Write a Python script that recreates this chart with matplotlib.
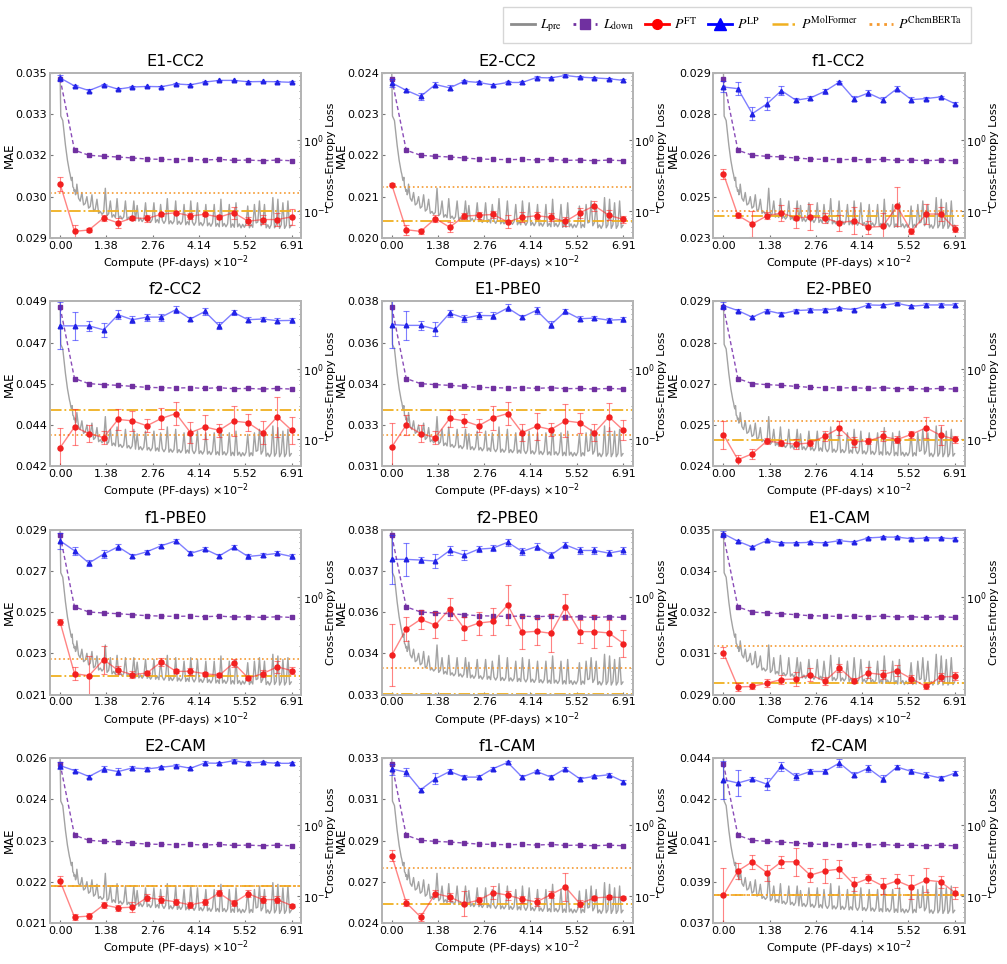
import matplotlib
matplotlib.use("Agg")
import matplotlib.pyplot as plt
import numpy as np
from matplotlib.lines import Line2D
from matplotlib.font_manager import FontProperties
from matplotlib.ticker import FixedLocator, LogLocator, NullFormatter

plt.rcParams['font.family'] = 'DejaVu Sans'

# ---- data ---------------------------------------------------------------
tasks = ['E1-CC2', 'E2-CC2', 'f1-CC2',
         'f2-CC2', 'E1-PBE0', 'E2-PBE0',
         'f1-PBE0', 'f2-PBE0', 'E1-CAM',
         'E2-CAM', 'f1-CAM', 'f2-CAM']

compute = [0.00, 0.43, 0.86, 1.30, 1.73, 2.16, 2.59, 3.02, 3.46,
           3.89, 4.32, 4.75, 5.18, 5.61, 6.05, 6.48, 6.91]
x_ticks = [0.00, 1.38, 2.76, 4.14, 5.52, 6.91]

mae_limits = [(0.029, 0.035), (0.020, 0.024), (0.023, 0.029),
              (0.042, 0.049), (0.031, 0.038), (0.024, 0.029),
              (0.021, 0.029), (0.033, 0.038), (0.029, 0.035),
              (0.021, 0.026), (0.024, 0.033), (0.037, 0.044)]

mae_tick_labels = [
    ['0.029', '0.030', '0.032', '0.033', '0.035'],
    ['0.020', '0.021', '0.022', '0.023', '0.024'],
    ['0.023', '0.025', '0.026', '0.028', '0.029'],
    ['0.042', '0.044', '0.045', '0.047', '0.049'],
    ['0.031', '0.033', '0.034', '0.036', '0.038'],
    ['0.024', '0.025', '0.027', '0.028', '0.029'],
    ['0.021', '0.023', '0.025', '0.027', '0.029'],
    ['0.033', '0.034', '0.036', '0.037', '0.038'],
    ['0.029', '0.031', '0.032', '0.034', '0.035'],
    ['0.021', '0.022', '0.023', '0.024', '0.026'],
    ['0.024', '0.027', '0.029', '0.031', '0.033'],
    ['0.037', '0.039', '0.041', '0.042', '0.044'],
]

lp_mae = [
    [0.03482, 0.03453, 0.03436, 0.03457, 0.03441, 0.03449, 0.03451, 0.03450, 0.03460,
     0.03457, 0.03467, 0.03473, 0.03473, 0.03468, 0.03469, 0.03468, 0.03466],
    [0.02376, 0.02358, 0.02343, 0.02372, 0.02364, 0.02380, 0.02377, 0.02371, 0.02377,
     0.02377, 0.02389, 0.02388, 0.02394, 0.02390, 0.02388, 0.02386, 0.02382],
    [0.02849, 0.02843, 0.02752, 0.02788, 0.02836, 0.02801, 0.02809, 0.02833, 0.02867,
     0.02807, 0.02827, 0.02803, 0.02843, 0.02803, 0.02807, 0.02813, 0.02788],
    [0.04796, 0.04796, 0.04796, 0.04779, 0.04843, 0.04822, 0.04833, 0.04833, 0.04865,
     0.04825, 0.04857, 0.04796, 0.04853, 0.04822, 0.04825, 0.04818, 0.04819],
    [0.03701, 0.03698, 0.03698, 0.03682, 0.03750, 0.03729, 0.03740, 0.03739, 0.03772,
     0.03733, 0.03762, 0.03701, 0.03757, 0.03726, 0.03729, 0.03720, 0.03723],
    [0.02887, 0.02872, 0.02852, 0.02872, 0.02862, 0.02872, 0.02874, 0.02874, 0.02879,
     0.02875, 0.02889, 0.02888, 0.02894, 0.02885, 0.02889, 0.02889, 0.02889],
    [0.02846, 0.02798, 0.02738, 0.02782, 0.02817, 0.02773, 0.02793, 0.02822, 0.02846,
     0.02785, 0.02806, 0.02773, 0.02814, 0.02770, 0.02777, 0.02785, 0.02770],
    [0.03710, 0.03710, 0.03708, 0.03705, 0.03737, 0.03723, 0.03741, 0.03744, 0.03762,
     0.03734, 0.03749, 0.03723, 0.03754, 0.03737, 0.03737, 0.03729, 0.03737],
    [0.03485, 0.03458, 0.03437, 0.03461, 0.03452, 0.03452, 0.03454, 0.03452, 0.03460,
     0.03455, 0.03470, 0.03473, 0.03473, 0.03467, 0.03470, 0.03470, 0.03467],
    [0.02577, 0.02562, 0.02544, 0.02567, 0.02559, 0.02570, 0.02567, 0.02572, 0.02577,
     0.02569, 0.02585, 0.02584, 0.02592, 0.02585, 0.02587, 0.02584, 0.02584],
    [0.03240, 0.03223, 0.03127, 0.03187, 0.03227, 0.03196, 0.03196, 0.03242, 0.03276,
     0.03196, 0.03227, 0.03196, 0.03242, 0.03187, 0.03200, 0.03209, 0.03172],
    [0.04308, 0.04294, 0.04311, 0.04289, 0.04365, 0.04322, 0.04343, 0.04343, 0.04379,
     0.04329, 0.04357, 0.04312, 0.04362, 0.04343, 0.04329, 0.04315, 0.04336],
]

# error bars in units of 1e-4
lp_err_e4 = [
    [1.0, 0.5, 0.4, 0.3, 0.3, 0.3, 0.3, 0.3, 0.3, 0.3, 0.3, 0.3, 0.3, 0.3, 0.3, 0.3, 0.3],
    [1.0, 0.4, 0.8, 0.5, 0.6, 0.3, 0.3, 0.3, 0.3, 0.3, 0.3, 0.3, 0.3, 0.3, 0.3, 0.3, 0.3],
    [2.0, 2.4, 2.4, 2.4, 1.5, 0.8, 0.8, 1.0, 0.5, 0.8, 1.0, 0.8, 0.8, 0.8, 0.5, 0.5, 0.5],
    [10, 6.0, 2.0, 3.0, 2.0, 1.5, 1.5, 1.5, 1.5, 1.0, 1.5, 1.5, 1.0, 1.0, 1.0, 1.0, 1.0],
    [10, 6.0, 2.0, 3.0, 1.5, 1.5, 1.5, 1.5, 1.5, 1.0, 1.5, 1.5, 1.0, 1.0, 1.0, 1.0, 1.0],
    [1.0, 0.5, 0.5, 0.5, 0.5, 0.5, 0.5, 0.5, 0.5, 0.5, 0.5, 0.5, 0.5, 0.5, 0.5, 0.5, 0.5],
    [4.0, 2.0, 1.5, 2.0, 1.5, 1.0, 1.0, 1.0, 1.0, 1.0, 1.0, 1.0, 1.0, 1.0, 1.0, 1.0, 1.0],
    [7.5, 5.0, 1.0, 2.0, 1.5, 1.5, 1.0, 1.0, 1.0, 1.0, 1.0, 1.0, 1.0, 1.0, 1.0, 1.0, 1.0],
    [1.0, 0.5, 0.5, 0.5, 0.5, 0.5, 0.5, 0.5, 0.5, 0.5, 0.5, 0.5, 0.5, 0.5, 0.5, 0.5, 0.5],
    [1.0, 0.5, 0.5, 1.0, 1.0, 0.5, 0.5, 0.5, 0.5, 0.5, 0.5, 0.5, 0.5, 0.5, 0.5, 0.5, 0.5],
    [3.0, 2.0, 1.0, 3.0, 1.5, 1.0, 1.0, 1.0, 1.0, 1.0, 1.0, 1.0, 1.0, 1.0, 1.0, 1.0, 1.0],
    [8.0, 5.5, 1.0, 2.5, 2.0, 1.5, 1.0, 1.0, 1.5, 1.0, 1.5, 1.5, 1.0, 1.0, 1.0, 1.0, 1.0],
]

ft_mae = [
    [0.03096, 0.02924, 0.02929, 0.02973, 0.02955, 0.02973, 0.02971, 0.02986, 0.02992,
     0.02980, 0.02986, 0.02976, 0.02992, 0.02961, 0.02967, 0.02967, 0.02977],
    [0.02129, 0.02020, 0.02016, 0.02047, 0.02026, 0.02053, 0.02055, 0.02057, 0.02039,
     0.02050, 0.02054, 0.02050, 0.02040, 0.02061, 0.02078, 0.02055, 0.02045],
    [0.02533, 0.02382, 0.02351, 0.02381, 0.02391, 0.02373, 0.02376, 0.02373, 0.02355,
     0.02363, 0.02339, 0.02342, 0.02415, 0.02324, 0.02387, 0.02387, 0.02334],
    [0.04279, 0.04367, 0.04339, 0.04322, 0.04399, 0.04393, 0.04372, 0.04403, 0.04424,
     0.04343, 0.04367, 0.04353, 0.04392, 0.04385, 0.04343, 0.04410, 0.04353],
    [0.03182, 0.03275, 0.03239, 0.03222, 0.03303, 0.03293, 0.03272, 0.03306, 0.03324,
     0.03243, 0.03270, 0.03256, 0.03293, 0.03285, 0.03243, 0.03310, 0.03253],
    [0.02496, 0.02420, 0.02438, 0.02477, 0.02471, 0.02467, 0.02471, 0.02491, 0.02516,
     0.02474, 0.02477, 0.02491, 0.02481, 0.02497, 0.02517, 0.02494, 0.02482],
    [0.02452, 0.02202, 0.02192, 0.02270, 0.02218, 0.02197, 0.02205, 0.02259, 0.02213,
     0.02213, 0.02202, 0.02194, 0.02254, 0.02181, 0.02202, 0.02235, 0.02217],
    [0.03420, 0.03499, 0.03528, 0.03511, 0.03560, 0.03501, 0.03517, 0.03522, 0.03572,
     0.03489, 0.03492, 0.03486, 0.03565, 0.03491, 0.03491, 0.03487, 0.03455],
    [0.03052, 0.02928, 0.02930, 0.02942, 0.02955, 0.02957, 0.02973, 0.02949, 0.02997,
     0.02951, 0.02979, 0.02973, 0.02987, 0.02958, 0.02930, 0.02964, 0.02967],
    [0.02227, 0.02118, 0.02121, 0.02155, 0.02146, 0.02148, 0.02177, 0.02171, 0.02164,
     0.02155, 0.02164, 0.02191, 0.02161, 0.02189, 0.02171, 0.02171, 0.02153],
    [0.02767, 0.02511, 0.02433, 0.02561, 0.02542, 0.02506, 0.02524, 0.02566, 0.02552,
     0.02530, 0.02515, 0.02555, 0.02597, 0.02506, 0.02537, 0.02542, 0.02539],
    [0.03818, 0.03921, 0.03960, 0.03913, 0.03960, 0.03960, 0.03903, 0.03921, 0.03929,
     0.03865, 0.03889, 0.03858, 0.03879, 0.03853, 0.03882, 0.03875, 0.03829],
]

ft_err_e4 = [
    [2.4, 2.4, 0.6, 1.2, 1.8, 0.6, 1.2, 0.6, 0.6, 1.0, 0.6, 0.6, 2.2, 1.5, 1.8, 2.2, 3.0],
    [0.4, 1.2, 0.6, 0.8, 1.2, 0.8, 0.8, 0.8, 1.6, 1.2, 0.8, 1.0, 1.2, 1.2, 1.2, 1.2, 0.8],
    [1.8, 1.0, 4.8, 1.2, 3.0, 3.6, 4.8, 1.8, 3.0, 4.8, 2.4, 4.8, 7.2, 1.0, 3.6, 2.4, 1.2],
    [8.5, 7.8, 3.5, 2.8, 4.3, 4.3, 2.8, 4.3, 5.0, 4.3, 5.0, 2.8, 6.4, 3.5, 5.0, 8.5, 5.7],
    [10, 4.3, 3.5, 2.8, 3.5, 2.8, 2.8, 5.0, 5.0, 3.5, 5.7, 2.8, 7.0, 4.3, 3.5, 6.0, 4.3],
    [4.2, 1.5, 1.5, 1.0, 1.0, 1.5, 1.0, 1.5, 2.0, 1.5, 1.0, 1.5, 1.0, 1.0, 3.2, 3.0, 1.0],
    [1.6, 3.2, 9.7, 6.8, 2.0, 1.6, 1.0, 2.0, 1.0, 1.6, 1.0, 1.0, 2.0, 1.0, 1.6, 3.0, 1.6],
    [9.4, 3.5, 3.0, 4.0, 3.3, 3.5, 3.5, 4.0, 6.0, 5.0, 4.0, 5.8, 4.0, 3.5, 5.0, 4.0, 4.0],
    [2.0, 1.5, 1.0, 1.5, 1.5, 2.5, 2.5, 1.5, 1.5, 1.0, 2.0, 1.5, 2.0, 1.5, 1.0, 1.5, 1.5],
    [1.5, 0.8, 1.0, 1.0, 1.0, 1.5, 1.0, 1.0, 1.0, 1.0, 1.0, 1.0, 1.0, 1.0, 1.0, 1.0, 0.5],
    [3.0, 2.0, 2.0, 2.0, 2.0, 7.0, 2.0, 3.5, 2.5, 2.0, 2.0, 2.0, 7.5, 2.0, 1.0, 1.0, 1.0],
    [11.5, 3.5, 3.0, 3.5, 2.5, 6.0, 3.0, 5.0, 4.0, 3.0, 2.0, 3.5, 3.0, 5.0, 5.0, 2.5, 2.5],
]

molformer_mae = [0.02998, 0.02040, 0.02379, 0.04441, 0.03341, 0.02479,
                 0.02189, 0.03303, 0.02942, 0.02211, 0.02502, 0.03818]
chemberta_mae = [0.03063, 0.02124, 0.02397, 0.04335, 0.03235, 0.02537,
                 0.02275, 0.03382, 0.03076, 0.02212, 0.02698, 0.03819]

# downstream cross-entropy loss (right axis)
l_down = [7.4, 0.725, 0.614, 0.594, 0.581, 0.562, 0.544, 0.538, 0.532,
          0.538, 0.526, 0.538, 0.520, 0.526, 0.514, 0.526, 0.514]

# pre-training cross-entropy loss (right axis)
pre_steps_early = [0.0, 0.01, 0.02, 0.04, 0.06, 0.08, 0.10, 0.12, 0.14, 0.16, 0.18, 0.20, 0.22,
                   0.24, 0.26, 0.28, 0.30, 0.32, 0.34, 0.36, 0.38, 0.40, 0.42, 0.44, 0.46, 0.48]
pre_loss_early = [8.9, 4.0, 2.2, 2.1, 2.0, 1.9, 1.55, 1.25, 1.05, 0.85, 0.72, 0.62, 0.52,
                  0.46, 0.40, 0.36, 0.33, 0.29, 0.27, 0.30, 0.22, 0.215, 0.19, 0.20, 0.17, 0.18]
pre_loss_late = [
    0.240, 0.152, 0.138, 0.183, 0.122, 0.128, 0.160, 0.110, 0.116, 0.170,
    0.100, 0.106, 0.147, 0.093, 0.099, 0.090, 0.096, 0.210, 0.086, 0.092,
    0.139, 0.082, 0.089, 0.081, 0.150, 0.079, 0.085, 0.077, 0.083, 0.139,
    0.076, 0.082, 0.074, 0.081, 0.139, 0.073, 0.120, 0.072, 0.079, 0.071,
    0.078, 0.131, 0.071, 0.077, 0.069, 0.076, 0.131, 0.069, 0.076, 0.068,
    0.124, 0.074, 0.067, 0.074, 0.150, 0.066, 0.073, 0.066, 0.072, 0.139,
    0.065, 0.072, 0.065, 0.071, 0.124, 0.064, 0.071, 0.064, 0.139, 0.070,
    0.063, 0.070, 0.131, 0.063, 0.069, 0.062, 0.069, 0.124, 0.062, 0.068,
    0.061, 0.068, 0.124, 0.061, 0.067, 0.060, 0.147, 0.061, 0.067, 0.060,
    0.066, 0.124, 0.059, 0.066, 0.059, 0.131, 0.060, 0.066, 0.058, 0.065,
    0.059, 0.066, 0.118, 0.058, 0.065, 0.059, 0.124, 0.068, 0.070, 0.139,
    0.062, 0.069, 0.124, 0.058, 0.064, 0.057, 0.064, 0.155, 0.058, 0.064,
    0.147, 0.057, 0.064, 0.131, 0.057, 0.063, 0.139, 0.058, 0.063,
]
pre_steps = np.concatenate([pre_steps_early,
                            np.linspace(0.5, 6.9, len(pre_loss_late))])
pre_loss = np.concatenate([pre_loss_early, pre_loss_late])

# panels where the 10^-1 label is not printed
no_low_label = ['f1-PBE0', 'f2-PBE0', 'E1-CAM']

# ---- styling ------------------------------------------------------------
c_pre = '#8c8c8c'
c_down = '#7030a0'
c_ft = '#ff2020'
c_lp = '#2a2aff'
c_mol = '#f0b020'
c_chem = '#f59a30'
c_spine = '#b4b4b4'

fig, axes = plt.subplots(4, 3, figsize=(10.07, 9.64), dpi=100)
fig.subplots_adjust(left=0.0497, right=0.958, top=0.9243, bottom=0.0425,
                    wspace=0.32, hspace=0.384)

for i, ax in enumerate(axes.flat):
    ax2 = ax.twinx()
    ax.set_zorder(ax2.get_zorder() + 1)
    ax.patch.set_visible(False)

    # right axis: cross-entropy losses
    ax2.set_yscale('log')
    ax2.plot(pre_steps, pre_loss, color=c_pre, lw=1.0, alpha=0.8)
    ax2.plot(compute, l_down, color='#8a4cb8', ls=(0, (3, 2)), lw=1.0,
             marker='s', ms=3.2, mfc=c_down, mec=c_down)
    ax2.set_ylim(0.0417, 8.93)
    if tasks[i] in no_low_label:
        ax2.yaxis.set_major_locator(FixedLocator([1.0]))
    else:
        ax2.yaxis.set_major_locator(FixedLocator([0.1, 1.0]))
    ax2.yaxis.set_minor_locator(LogLocator(base=10, subs=np.arange(1, 10)))
    ax2.yaxis.set_minor_formatter(NullFormatter())
    ax2.tick_params(axis='y', which='major', direction='in', length=3,
                    color='#777777', labelsize=8, pad=1)
    ax2.tick_params(axis='y', which='minor', direction='in', length=1.8,
                    color='#777777')
    ax2.set_ylabel('Cross-Entropy Loss', fontsize=8)
    ax2.yaxis.set_label_coords(1.097, 0.5)

    # left axis: MAE
    ax.axhline(molformer_mae[i], color=c_mol, ls='-.', lw=1.3)
    ax.axhline(chemberta_mae[i], color=c_chem, ls=':', lw=1.2)

    lp_err = np.array(lp_err_e4[i]) * 1e-4
    ft_err = np.array(ft_err_e4[i]) * 1e-4
    ax.errorbar(compute, lp_mae[i], yerr=lp_err, color=c_lp, alpha=0.6,
                lw=1.0, elinewidth=0.8, capsize=2, capthick=0.8)
    ax.plot(compute, lp_mae[i], ls='none', marker='^', ms=3.3, color='#2020e0')
    ax.errorbar(compute, ft_mae[i], yerr=ft_err, color=c_ft, alpha=0.55,
                lw=1.0, elinewidth=0.8, capsize=2, capthick=0.8)
    ax.plot(compute, ft_mae[i], ls='none', marker='o', ms=3.6, color='#f02020')

    lo, hi = mae_limits[i]
    ax.set_ylim(lo, hi)
    ax.set_yticks(np.linspace(lo, hi, 5))
    ax.set_yticklabels(mae_tick_labels[i])
    ax.set_xlim(-0.3, 7.2)
    ax.set_xticks(x_ticks)
    ax.set_xticklabels([f'{v:.2f}' for v in x_ticks])
    ax.tick_params(direction='in', length=2.5, color='#777777',
                   labelsize=8, pad=2)
    ax.set_ylabel('MAE', fontsize=8.5)
    ax.yaxis.set_label_coords(-0.135, 0.5)
    ax.set_xlabel('Compute (PF-days) ×10$^{-2}$', fontsize=8, labelpad=2)
    ax.set_title(tasks[i], fontsize=11.5, pad=5)

    for a in (ax, ax2):
        for sp in a.spines.values():
            sp.set_color(c_spine)
            sp.set_linewidth(1.4)

handles = [
    Line2D([], [], color=c_pre, lw=2),
    Line2D([], [], color=c_down, ls=':', lw=2, marker='s', ms=7),
    Line2D([], [], color='red', lw=2, marker='o', ms=7),
    Line2D([], [], color='blue', lw=2, marker='^', ms=8),
    Line2D([], [], color=c_mol, ls='-.', lw=1.8),
    Line2D([], [], color=c_chem, ls=':', lw=2),
]
labels = [r'$L_{\rm pre}$', r'$L_{\rm down}$', r'$P^{\rm FT}$', r'$P^{\rm LP}$',
          r'$P^{\rm MolFormer}$', r'$P^{\rm ChemBERTa}$']
fig.legend(handles, labels, loc='upper right', bbox_to_anchor=(0.964, 0.993),
           ncol=6, prop=FontProperties(size=10, math_fontfamily='stix'),
           frameon=True, fancybox=False, edgecolor='#cccccc',
           handlelength=1.7, handletextpad=0.4, columnspacing=0.8,
           borderpad=0.6, borderaxespad=0)

fig.savefig('out.png', dpi=100)
